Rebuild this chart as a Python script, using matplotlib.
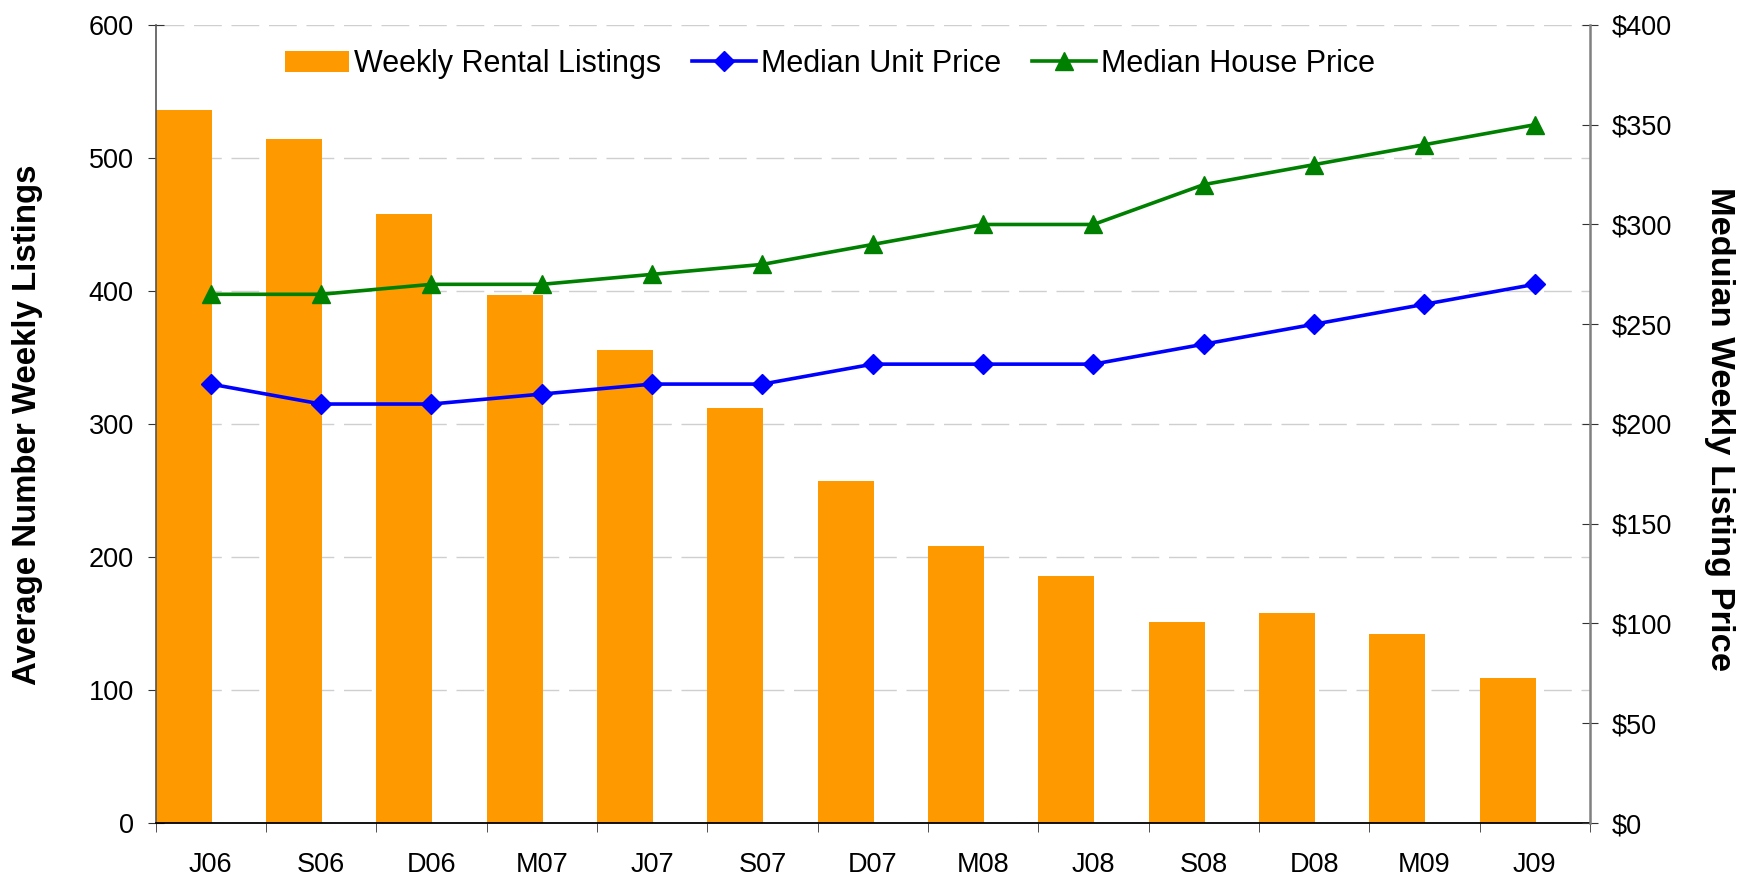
import matplotlib
matplotlib.use("Agg")
import matplotlib.pyplot as plt
import numpy as np
from matplotlib.ticker import FuncFormatter, FixedLocator

categories = ["J06", "S06", "D06", "M07", "J07", "S07", "D07", "M08", "J08", "S08", "D08", "M09", "J09"]
rental_listings = [536, 514, 458, 397, 356, 312, 257, 208, 186, 151, 158, 142, 109]
unit_price = [220, 210, 210, 215, 220, 220, 230, 230, 230, 240, 250, 260, 270]
house_price = [265, 265, 270, 270, 275, 280, 290, 300, 300, 320, 330, 340, 350]
left_ticks = [0, 100, 200, 300, 400, 500, 600]
right_ticks = [0, 50, 100, 150, 200, 250, 300, 350, 400]

regular = ["Liberation Sans", "DejaVu Sans"]
plt.rcParams["font.family"] = regular

fig = plt.figure(figsize=(17.39, 8.76), dpi=100)
ax_l, ax_b, ax_w, ax_h = 0.0895, 0.0605, 0.8248, 0.911
ax = fig.add_axes([ax_l, ax_b, ax_w, ax_h])
ax2 = ax.twinx()

x = np.arange(len(categories))
bars = ax.bar(x - 0.5, rental_listings, width=0.508, align="edge", color="#FF9900",
              label="Weekly Rental Listings", zorder=2)
ax.set_xlim(-0.5, len(categories) - 0.5)
ax.set_ylim(0, 600)
ax.set_yticks(left_ticks)
ax.set_axisbelow(True)
ax.yaxis.grid(True, color="#cfcfcf", linestyle=(0, (20, 7)), linewidth=1.0)

l1, = ax2.plot(x, unit_price, color="#0000FF", marker="D", markersize=10, linewidth=2.6,
               label="Median Unit Price")
l2, = ax2.plot(x, house_price, color="#008000", marker="^", markersize=12.5, linewidth=2.6,
               label="Median House Price")
ax2.set_ylim(0, 400)
ax2.set_yticks(right_ticks)
ax2.yaxis.set_major_formatter(FuncFormatter(lambda v, p: f"${int(v)}"))

# x ticks: labels at centers, tick marks at boundaries
ax.set_xticks(x)
ax.set_xticklabels(categories, fontsize=19.5)
ax.tick_params(axis="x", which="major", length=0, pad=21)
ax.xaxis.set_minor_locator(FixedLocator(np.arange(-0.5, len(categories), 1.0)))
ax.tick_params(axis="x", which="minor", length=6.5, direction="out", color="#333333")

ax.tick_params(axis="y", direction="inout", length=11.5, labelsize=19.5, color="#333333", pad=10)
ax2.tick_params(axis="y", direction="inout", length=11.5, labelsize=19.5, color="#333333", pad=10)

for a in (ax, ax2):
    a.spines["top"].set_visible(False)
ax.spines["left"].set_color("#555555")
ax2.spines["right"].set_color("#808080")
ax2.spines["left"].set_visible(False)
ax.spines["right"].set_visible(False)
ax.spines["bottom"].set_color("black")
ax2.spines["bottom"].set_visible(False)
ax.spines["left"].set_linewidth(1.2)
ax.spines["bottom"].set_linewidth(1.3)
ax2.spines["right"].set_linewidth(1.8)

fig.text(28 / 1739, 1 - 425 / 876, "Average Number Weekly Listings",
         rotation=90, ha="center", va="center", fontsize=23.8, fontweight="bold")
fig.text(1720 / 1739, 1 - 429 / 876, "Meduian Weekly Listing Price",
         rotation=-90, ha="center", va="center", fontsize=24.8, fontweight="bold")

leg = ax2.legend(handles=[bars, l1, l2], loc="center", bbox_to_anchor=(0.470, 0.951), ncol=3,
                 frameon=False, prop={"size": 22}, handlelength=2.1,
                 handletextpad=0.17, columnspacing=1.0)

fig.savefig("out.png", dpi=100)
